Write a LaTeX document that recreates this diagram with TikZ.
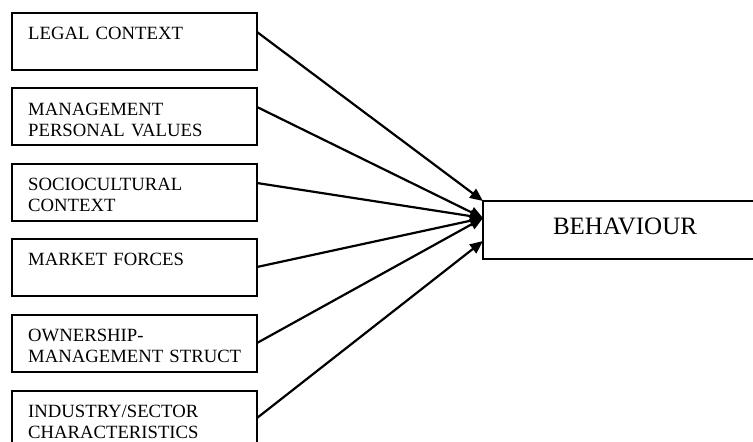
\documentclass[tikz,border=0pt]{standalone}
\usepackage{fontspec}
\setmainfont{Liberation Serif}
\usetikzlibrary{arrows.meta,calc}
\begin{document}
\begin{tikzpicture}[x=1pt,y=-1pt,
  factor/.style={draw,line width=2.2pt,rectangle,inner sep=0pt,outer sep=0pt,
    minimum width=245pt,minimum height=57pt,anchor=north west},
  flabel/.style={anchor=base west,inner sep=0pt,text width=228pt,align=left,
    font=\fontsize{18.7}{21.7}\selectfont},
  result/.style={draw,line width=2.2pt,rectangle,inner sep=0pt,outer sep=0pt,
    minimum width=330pt,minimum height=58pt,anchor=north west},
  link/.style={line width=2.2pt,-{Triangle[length=13pt,width=11pt]}}]
\useasboundingbox (0,0) rectangle (753,442);
\clip (0,0) rectangle (753,442);

\node[factor] (b1) at (12,13) {};
\node[factor] (b2) at (12,88) {};
\node[factor] (b3) at (12,164) {};
\node[factor] (b4) at (12,239) {};
\node[factor] (b5) at (12,315) {};
\node[factor] (b6) at (12,391) {};

\node[flabel] (t1) at ($(b1.north west)+(16,26)$) {LEGAL CONTEXT};
\node[flabel] (t2) at ($(b2.north west)+(16,27)$) {MANAGEMENT\\PERSONAL VALUES};
\node[flabel] (t3) at ($(b3.north west)+(16,26)$) {SOCIOCULTURAL\\CONTEXT};
\node[flabel] (t4) at ($(b4.north west)+(16,26)$) {MARKET FORCES};
\node[flabel] (t5) at ($(b5.north west)+(16,26)$) {OWNERSHIP-\\MANAGEMENT STRUCT};
\node[flabel] (t6) at ($(b6.north west)+(16,26)$) {INDUSTRY/SECTOR\\CHARACTERISTICS};

\node[result] (beh) at (483,201) {};
\node[anchor=base,inner sep=0pt,font=\fontsize{25}{30}\selectfont] (bt) at (625,234) {BEHAVIOUR};

\coordinate (s1) at ($(b1.north east)+(0,19)$);
\coordinate (s2) at ($(b2.north east)+(0,19)$);
\coordinate (s3) at ($(b3.north east)+(0,19)$);
\coordinate (s4) at ($(b4.north east)+(0,28)$);
\coordinate (s5) at ($(b5.north east)+(0,28)$);
\coordinate (s6) at ($(b6.north east)+(0,27)$);
\coordinate (e1) at (beh.north west);
\coordinate (e2) at ($(beh.north west)+(0,17)$);
\coordinate (e3) at ($(beh.north west)+(0,40)$);

\draw[link] (s1) -- (e1);
\draw[link] (s2) -- (e2);
\draw[link] (s3) -- (e2);
\draw[link] (s4) -- (e2);
\draw[link] (s5) -- (e2);
\draw[link] (s6) -- (e3);
\end{tikzpicture}
\end{document}
